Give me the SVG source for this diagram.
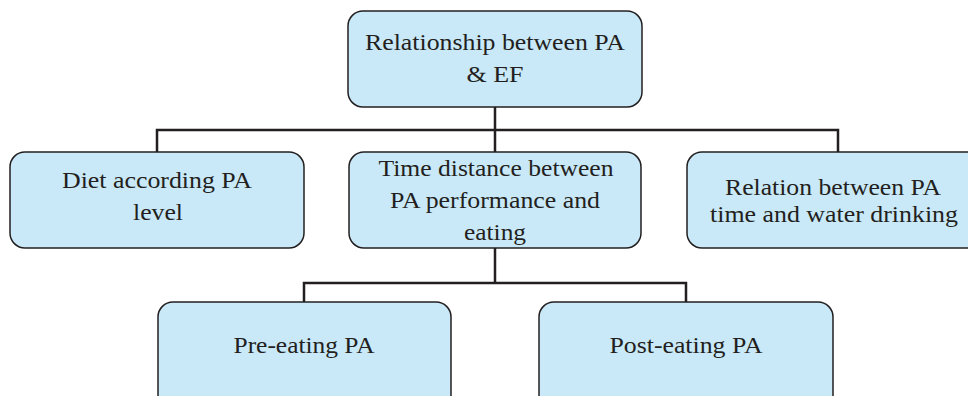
<svg xmlns="http://www.w3.org/2000/svg" width="968" height="396" viewBox="0 0 968 396">
<style>
.box{fill:#c9e9f8;stroke:#231f20;stroke-width:1.5}
.t{font-family:'Liberation Serif','DejaVu Serif',serif;font-size:24px;fill:#231f20;text-anchor:middle}
.c{fill:none;stroke:#231f20;stroke-width:2.5}
</style>
<rect width="968" height="396" fill="#ffffff"/>
<g id="connectors">
<path class="c" d="M495 107V130M157 152V130H838V152M495 130V152"/>
<path class="c" d="M495 248V283M304 302V283H686V302"/>
</g>
<g id="n-root">
<rect class="box" x="348" y="11" width="294" height="96" rx="15"/>
<text class="t" x="495" y="50" textLength="260" lengthAdjust="spacingAndGlyphs">Relationship between PA</text>
<text class="t" x="495" y="82" textLength="57" lengthAdjust="spacingAndGlyphs">&amp; EF</text>
</g>
<g id="n-diet">
<rect class="box" x="10" y="152" width="294" height="96" rx="15"/>
<text class="t" x="157" y="188" textLength="190" lengthAdjust="spacingAndGlyphs">Diet according PA</text>
<text class="t" x="158" y="220" textLength="50" lengthAdjust="spacingAndGlyphs">level</text>
</g>
<g id="n-time">
<rect class="box" x="349" y="152" width="292" height="96" rx="15"/>
<text class="t" x="496" y="176" textLength="235" lengthAdjust="spacingAndGlyphs">Time distance between</text>
<text class="t" x="495" y="208" textLength="210" lengthAdjust="spacingAndGlyphs">PA performance and</text>
<text class="t" x="495" y="240" textLength="62" lengthAdjust="spacingAndGlyphs">eating</text>
</g>
<g id="n-water">
<rect class="box" x="687" y="152" width="295" height="96" rx="15"/>
<text class="t" x="833" y="195" textLength="216" lengthAdjust="spacingAndGlyphs">Relation between PA</text>
<text class="t" x="834" y="222" textLength="248" lengthAdjust="spacingAndGlyphs">time and water drinking</text>
</g>
<g id="n-pre">
<rect class="box" x="158" y="302" width="293" height="110" rx="15"/>
<text class="t" x="304" y="353" textLength="141" lengthAdjust="spacingAndGlyphs">Pre-eating PA</text>
</g>
<g id="n-post">
<rect class="box" x="539" y="302" width="294" height="110" rx="15"/>
<text class="t" x="686" y="353" textLength="153" lengthAdjust="spacingAndGlyphs">Post-eating PA</text>
</g>
</svg>
